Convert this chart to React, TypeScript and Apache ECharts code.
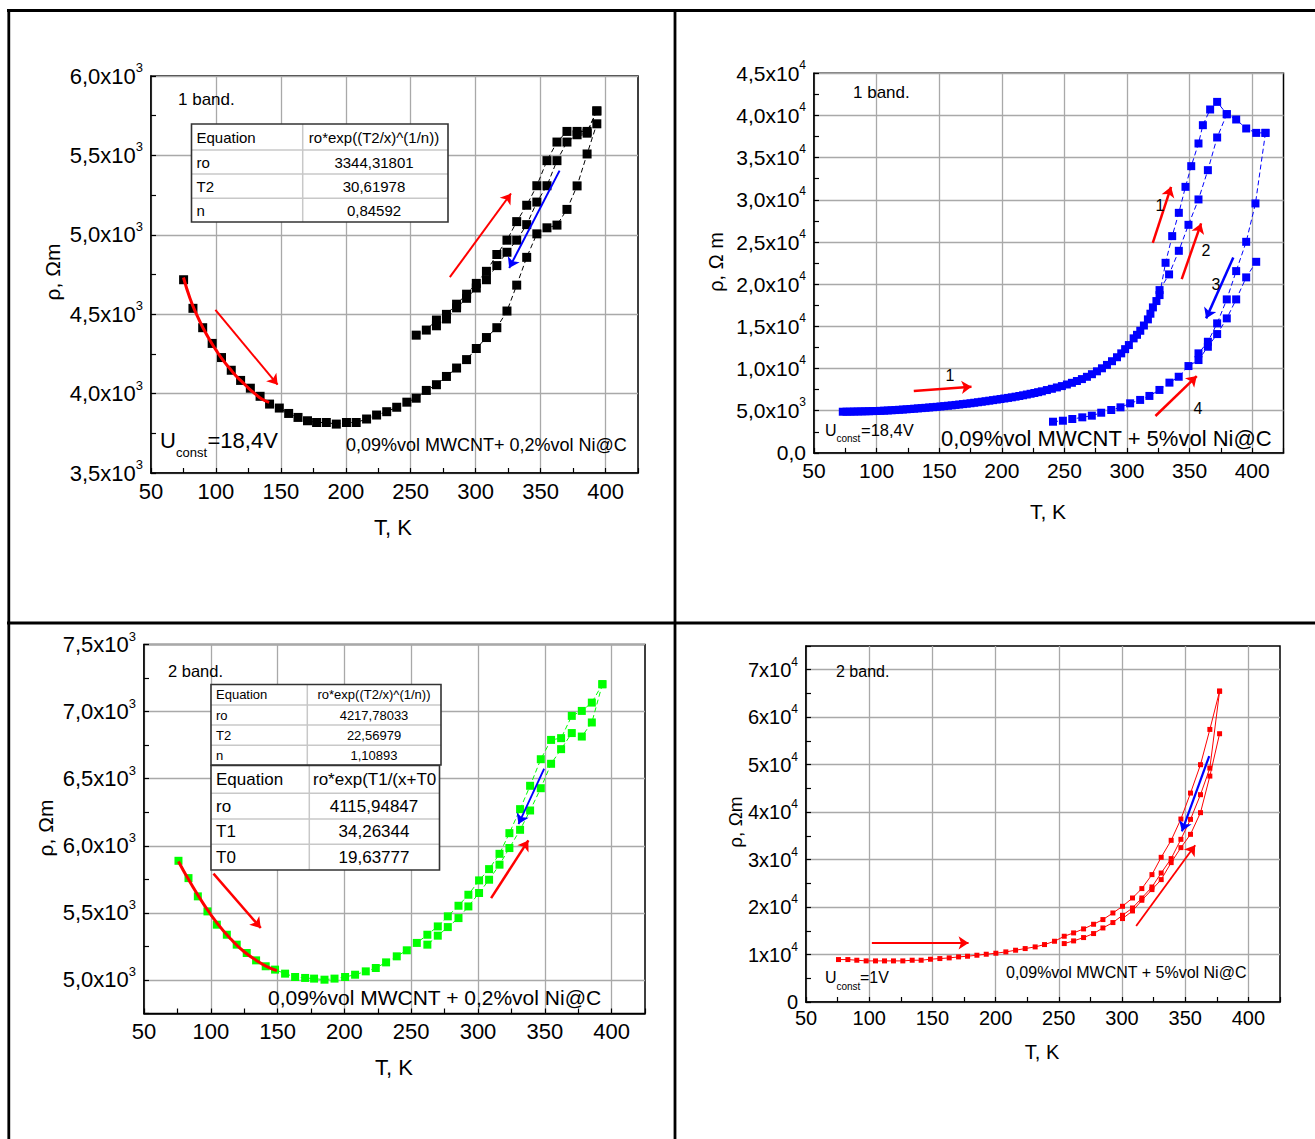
import React, { useEffect, useRef } from 'react';
import * as echarts from 'echarts';

const FONT = '"Liberation Sans", Arial, Helvetica, sans-serif';
const GRID_COLOR = '#a9a9a9';
const CLEAR = 'rgba(0,0,0,0)';

// ---------- Panel 1 (1 band, 0,2%vol Ni@C), black ----------
const p1Lower: number[][] = [[75.1,4717],[82.3,4537],[89.8,4415],[97.1,4316],[104.3,4227],[111.8,4147],[119.0,4083],[126.5,4034],[134.0,3983],[141.3,3934],[148.8,3909],[156.0,3875],[163.2,3850],[170.5,3829],[177.5,3818],[185.0,3818],[192.7,3808],[200.5,3818],[208.0,3818],[216.0,3840],[223.7,3865],[231.5,3886],[239.2,3914],[247.0,3946],[254.2,3971],[262.0,4020],[269.8,4056],[277.5,4108],[285.3,4161],[293.0,4214],[300.5,4284],[308.3,4353],[316.3,4415],[324.1,4520],[331.6,4683],[339.3,4858],[347.1,5006],[354.9,5044],[362.6,5061],[370.3,5160],[378.1,5308],[385.8,5509],[393.3,5699]];
const p1UpA: number[][] = [[254.2,4368],[262.0,4400],[269.8,4463],[277.5,4499],[285.3,4563],[293.0,4626],[300.5,4694],[308.3,4770],[316.3,4876],[324.1,4966],[331.6,5083],[339.3,5186],[347.1,5309],[354.9,5467],[362.6,5584],[370.3,5651],[378.1,5651],[385.8,5651],[393.3,5780]];
const p1UpB: number[][] = [[393.3,5780],[385.8,5640],[378.1,5630],[370.3,5584],[362.6,5467],[354.9,5309],[347.1,5206],[339.3,5064],[331.6,4966],[324.1,4890],[316.3,4806],[308.3,4717],[300.5,4665],[293.0,4600],[285.3,4540],[277.5,4470],[269.8,4427]];
const p1Fit: number[][] = [[75,4731],[80,4600],[85,4500],[90,4415],[95,4340],[100,4275],[105,4215],[110,4165],[115,4115],[120,4075],[125,4035],[130,4000],[135,3968],[141,3945]];
const p1ArrowsRed: number[][][] = [[[99.6,4527],[147.5,4056]],[[280.1,4733],[327.2,5260]]];
const p1ArrowsBlue: number[][][] = [[[364.6,5404],[325.8,4791]]];
const p1Table: string[][] = [["Equation","ro*exp((T2/x)^(1/n))"],["ro","3344,31801"],["T2","30,61978"],["n","0,84592"]];

// ---------- Panel 2 (1 band, 5%vol Ni@C), blue ----------
const p2Heat1: number[][] = [[73,4880],[76,4885],[79,4890],[82,4900],[85,4910],[88,4920],[91,4930],[94,4942],[97,4953],[100,4965],[103,4985],[106,5005],[109,5030],[112,5055],[115,5080],[118,5110],[121,5140],[124,5170],[127,5205],[130,5240],[133,5275],[136,5310],[139,5345],[142,5385],[145,5420],[148,5460],[151,5500],[154,5545],[157,5590],[160,5635],[163,5685],[166,5735],[169,5785],[172,5835],[175,5885],[178,5945],[181,6005],[184,6065],[187,6125],[190,6190],[193,6255],[196,6320],[199,6385],[202,6450],[205,6520],[208,6590],[211,6665],[214,6745],[217,6830],[220,6920],[223,7010],[226,7100],[229,7200],[232,7300],[236,7450],[240,7600],[244,7760],[248,7920],[252,8110],[256,8310],[260,8520],[264,8750],[268,9020],[272,9330],[276,9670],[280,10030],[284,10430],[288,10870],[292,11340],[295.4,11800],[298.5,12300],[301.5,12784],[305.3,13578],[308,14000],[310.6,14478],[313.5,15100],[316.7,15829],[318.7,16500],[320.7,17250],[323.5,18000],[326.0,18708],[330.8,22535],[336.1,25698],[341.4,28459],[346.7,31540],[351.3,33992],[357.1,36681],[360.6,38850],[366.4,40709],[372.0,41611],[379.7,40153],[387.2,39524],[395.2,38458],[403.2,37937],[410.6,37937]];
const p2Heat2: number[][] = [[326.0,19300],[333.6,21160],[341.4,23957],[349.1,27037],[357.1,30047],[364.6,33518],[372.0,37392],[379.7,40153]];
const p2Cool3: number[][] = [[410.6,37937],[402.6,29572],[395.2,25023],[387.2,21551],[379.7,18198],[372.0,15355],[364.6,13175],[357.1,11800]];
const p2Heat4: number[][] = [[240.9,3697],[248.8,3815],[256.3,4016],[264.3,4216],[271.9,4413],[279.4,4763],[287.4,5083],[294.8,5403],[302.5,5877],[310.5,6280],[317.9,6753],[325.9,7464],[333.9,8329],[341.3,9028],[349.1,10296],[357.1,11007],[364.6,12583],[372.0,14087],[379.7,15947],[387.2,18198],[395.2,20805],[403.2,22653]];
const p2ArrowsRed: number[][][] = [[[129.7,7334],[175.8,7844]],[[320.6,24905],[335.2,31540]],[[343.7,20604],[359.2,27203]],[[322.7,4372],[355.7,9111]]];
const p2ArrowsBlue: number[][][] = [[[384.9,23174],[363.2,15947]]];

// ---------- Panel 3 (2 band, 0,2%vol Ni@C), green ----------
const p3Main: number[][] = [[75.8,5888],[83.3,5759],[90.3,5623],[97.5,5511],[104.5,5412],[112.0,5337],[119.4,5263],[126.9,5201],[133.9,5146],[141.1,5102],[148.1,5077],[155.6,5047],[163.1,5022],[170.6,5015],[177.3,5010],[185.1,5002],[192.6,5010],[200.5,5022],[208.0,5039],[216.0,5064],[223.5,5089],[231.2,5131],[239.2,5176],[246.7,5221],[254.2,5276],[262.1,5337],[269.9,5399],[277.4,5474],[285.4,5553],[292.8,5635],[300.8,5742],[308.3,5826],[316.1,5940],[323.5,6094],[331.5,6273],[339.0,6447],[347.0,6645],[354.7,6789],[362.2,6802],[370.2,6968],[377.7,7005],[385.2,7067],[393.1,7204]];
const p3Back: number[][] = [[393.1,7204],[385.2,6919],[377.7,6814],[370.2,6840],[362.2,6720],[354.7,6611],[347.0,6429],[339.0,6263],[331.5,6119],[323.5,5983],[316.1,5859],[308.3,5747],[300.8,5648],[292.8,5548],[285.4,5461],[277.4,5394],[269.9,5330],[262.1,5263]];
const p3Fit: number[][] = [[75.8,5883],[85,5720],[95,5560],[105,5420],[115,5305],[125,5210],[135,5140],[142,5100],[149.5,5069]];
const p3ArrowsRed: number[][][] = [[[102,5792],[137.4,5387]],[[309.8,5610],[337.7,6040]]];
const p3ArrowsBlue: number[][][] = [[[349.5,6574],[330.3,6162]]];
const p3Table1: string[][] = [["Equation","ro*exp((T2/x)^(1/n))"],["ro","4217,78033"],["T2","22,56979"],["n","1,10893"]];
const p3Table2: string[][] = [["Equation","ro*exp(T1/(x+T0"],["ro","4115,94847"],["T1","34,26344"],["T0","19,63777"]];

// ---------- Panel 4 (2 band, 5%vol Ni@C), red ----------
const p4Upper: number[][] = [[75.7,8941],[83.1,8941],[90.2,8800],[97.6,8660],[105.0,8660],[112.1,8660],[119.2,8660],[126.6,8660],[134.0,8800],[141.1,8800],[148.5,9011],[155.9,9151],[163.3,9292],[170.7,9502],[177.8,9643],[185.2,9853],[192.6,10064],[200.2,10275],[208.1,10555],[215.8,10906],[223.4,11257],[231.3,11608],[238.7,12100],[246.6,12800],[254.3,13854],[261.7,14556],[269.6,15398],[277.5,16377],[284.9,17366],[292.8,18756],[300.4,20166],[308.3,21913],[315.7,23892],[323.7,26839],[331.0,30480],[338.9,34059],[346.6,38543],[354.2,44016],[362.1,49994],[369.5,57424],[377.2,65487]];
const p4Middle: number[][] = [[377.2,65487],[369.5,49278],[362.1,43679],[354.2,38479],[346.6,34269],[338.9,30207],[331.0,27176],[323.7,24229],[315.7,21913],[308.3,19808],[300.4,18271],[292.8,16735],[284.9,15598],[277.5,14419],[269.6,13573],[261.7,12871],[254.3,12310]];
const p4Lower: number[][] = [[300.4,17577],[308.3,19177],[315.7,21429],[323.7,23681],[331.0,25786],[338.9,29365],[346.6,32522],[354.2,35321],[362.1,39890],[369.5,47594],[377.2,56519]];
const p4ArrowsRed: number[][][] = [[[102.1,12450],[178.6,12450]],[[311.2,16019],[357.9,33006]]];
const p4ArrowsBlue: number[][][] = [[[369.0,51805],[347.4,35953]]];

// ---------- helpers ----------
const comma = (n: number, d: number) => n.toFixed(d).replace('.', ',');

function xAxis(gridIndex: number, fs: number, margin: number) {
  return {
    type: 'value', gridIndex, min: 50, max: 425, interval: 25,
    axisLine: { show: true, onZero: false, lineStyle: { color: '#000', width: 1.5 } },
    axisTick: { show: true, inside: true, length: 5, lineStyle: { color: '#000', width: 1.2 } },
    axisLabel: {
      show: true, margin, color: '#000', fontSize: fs, fontFamily: FONT,
      formatter: (v: number) => (Math.abs(v % 50) < 1e-6 && v <= 400 ? String(v) : ''),
    },
    splitLine: { show: true, lineStyle: { color: [GRID_COLOR, CLEAR], width: 1.3 } },
  };
}

function yAxis(gridIndex: number, min: number, max: number, interval: number, fmt: (v: number) => string, colors: string[], fs: number, sfs: number) {
  return {
    type: 'value', gridIndex, min, max, interval,
    axisLine: { show: true, onZero: false, lineStyle: { color: '#000', width: 1.5 } },
    axisTick: { show: true, inside: true, length: 5, lineStyle: { color: '#000', width: 1.2 } },
    axisLabel: {
      show: true, margin: 8, color: '#000', fontSize: fs, fontFamily: FONT, formatter: fmt,
      rich: {
        m: { fontSize: fs, fontFamily: FONT, color: '#000', lineHeight: fs + 8 },
        s: { fontSize: sfs, fontFamily: FONT, color: '#000', verticalAlign: 'top', lineHeight: sfs + 2 },
      },
    },
    splitLine: { show: true, lineStyle: { color: colors, width: 1.3 } },
  };
}

const fmtThousands = (v: number) => (Math.abs(v % 500) < 1e-6 ? `{m|${comma(v / 1000, 1)}x10}{s|3}` : '');
const fmtP2 = (v: number) => {
  if (v === 0) return '{m|0,0}';
  if (Math.abs(v % 5000) > 1e-6) return '';
  if (v < 10000) return `{m|${comma(v / 1000, 1)}x10}{s|3}`;
  return `{m|${comma(v / 10000, 1)}x10}{s|4}`;
};
const fmtP4 = (v: number) => {
  if (v === 0) return '{m|0}';
  if (Math.abs(v % 10000) > 1e-6) return '';
  return `{m|${Math.round(v / 10000)}x10}{s|4}`;
};

function pts(idx: number, data: number[][], color: string, size: number, solid = false) {
  return {
    type: 'line', xAxisIndex: idx, yAxisIndex: idx, data,
    symbol: 'rect', symbolSize: size, showSymbol: true, showAllSymbol: true,
    itemStyle: { color }, lineStyle: { color, width: 1, type: solid ? 'solid' : [5, 3] },
    z: 3, silent: true,
  };
}
function fit(idx: number, data: number[][]) {
  return {
    type: 'line', xAxisIndex: idx, yAxisIndex: idx, data, smooth: true, showSymbol: false, symbol: 'none',
    lineStyle: { color: '#ff0000', width: 3 }, z: 5, silent: true,
  };
}
function arrows(idx: number, list: number[][][], color: string, width = 2) {
  return {
    type: 'lines', coordinateSystem: 'cartesian2d', xAxisIndex: idx, yAxisIndex: idx,
    data: list.map((c) => ({ coords: c })),
    symbol: ['none', 'arrow'], symbolSize: 10,
    lineStyle: { color, width, opacity: 1, curveness: 0 }, z: 6, silent: true,
  };
}

function txt(text: string, x: number, y: number, fs: number, align = 'left', rot = 0) {
  return {
    type: 'text', x, y, rotation: rot, z: 120, silent: true,
    style: { text, fontSize: fs, fontFamily: FONT, fill: '#000', align, verticalAlign: 'middle', textAlign: align, textVerticalAlign: 'middle' },
  };
}
function line(x1: number, y1: number, x2: number, y2: number, stroke: string, lw: number, z = 110) {
  return { type: 'line', z, silent: true, shape: { x1, y1, x2, y2 }, style: { stroke, lineWidth: lw } };
}
function table(x0: number, y0: number, w: number, h: number, divX: number, rowLines: number[], rows: string[][], fs: number, rightCenter: number, firstRightLeftX?: number) {
  const els: any[] = [];
  els.push({ type: 'rect', z: 100, silent: true, shape: { x: x0, y: y0, width: w, height: h }, style: { fill: '#fff', stroke: 'none' } });
  rowLines.forEach((y) => els.push(line(x0, y, x0 + w, y, '#c8c8c8', 1.5, 101)));
  els.push(line(divX, y0, divX, y0 + h, '#c8c8c8', 1.5, 101));
  els.push({ type: 'rect', z: 102, silent: true, shape: { x: x0, y: y0, width: w, height: h }, style: { fill: 'none', stroke: '#333', lineWidth: 1.6 } });
  const bounds = [y0, ...rowLines, y0 + h];
  rows.forEach((r, i) => {
    const cy = (bounds[i] + bounds[i + 1]) / 2;
    els.push(txt(r[0], x0 + 5, cy, fs, 'left'));
    if (i === 0 && firstRightLeftX !== undefined) els.push(txt(r[1], firstRightLeftX, cy, fs, 'left'));
    else els.push(txt(r[1], rightCenter, cy, fs, 'center'));
  });
  return els;
}

export default function App() {
  const ref = useRef<HTMLDivElement>(null);
  useEffect(() => {
    document.body.style.margin = '0';
    const chart = echarts.init(ref.current as HTMLDivElement, null, { renderer: 'svg' });
    const graphics: any[] = [
      // page table borders
      line(7, 10.5, 1315, 10.5, '#000', 2.8, 130),
      line(8.8, 9, 8.8, 1139, '#000', 2.8, 130),
      line(675, 9, 675, 1139, '#000', 2.8, 130),
      line(7, 623, 1315, 623, '#000', 2.8, 130),
      // panel 1
      txt('1 band.', 178, 99, 17),
      ...table(191.5, 124, 256.5, 98, 302.7, [150, 174, 198.2], p1Table, 15, 374),
      txt('U', 160, 440, 22), txt('const', 176, 452, 13), txt('=18,4V', 207.5, 440, 22),
      txt('0,09%vol MWCNT+ 0,2%vol Ni@C', 346, 445, 18),
      txt('T, K', 393, 527, 22, 'center'),
      txt('ρ, Ωm', 52, 272, 21, 'center', Math.PI / 2),
      // panel 2
      txt('1 band.', 853, 92, 17),
      txt('U', 825, 430, 16), txt('const', 836.5, 438.5, 10), txt('=18,4V', 861, 430, 16.5),
      txt('0,09%vol MWCNT + 5%vol Ni@C', 941, 438, 22),
      txt('1', 950, 375, 16, 'center'), txt('1', 1160, 205, 16, 'center'), txt('2', 1206, 250, 16, 'center'),
      txt('3', 1216, 284, 16, 'center'), txt('4', 1198, 408, 16, 'center'),
      txt('T, K', 1048, 511, 21, 'center'),
      txt('ρ, Ω m', 716, 262, 20, 'center', Math.PI / 2),
      // panel 3
      txt('2 band.', 168, 671, 16.5),
      ...table(211, 684.5, 230, 80.5, 307.3, [705, 725, 745.3], p3Table1, 13, 374),
      ...table(211, 765.5, 228.5, 104.5, 309.3, [793.3, 819, 844.3], p3Table2, 17, 374, 313),
      txt('0,09%vol MWCNT + 0,2%vol Ni@C', 268, 997, 21),
      txt('T, K', 394, 1067, 22, 'center'),
      txt('ρ, Ωm', 45, 828, 21, 'center', Math.PI / 2),
      // panel 4
      txt('2 band.', 836, 671, 16),
      txt('U', 825, 977, 16), txt('const', 836.5, 986, 10), txt('=1V', 860, 977, 16),
      txt('0,09%vol MWCNT + 5%vol Ni@C', 1006, 972, 16),
      txt('T, K', 1042, 1052, 20, 'center'),
      txt('ρ, Ωm', 735, 822, 19, 'center', Math.PI / 2),
    ];

    const option: any = {
      animation: false,
      backgroundColor: '#fff',
      grid: [
        { left: 151, top: 76, width: 487, height: 397, show: true, borderColor: '#000', borderWidth: 1.5, backgroundColor: CLEAR },
        { left: 814, top: 73.3, width: 469.5, height: 379.6, show: true, borderColor: '#000', borderWidth: 1.5, backgroundColor: CLEAR },
        { left: 144, top: 644.5, width: 501, height: 369, show: true, borderColor: '#000', borderWidth: 1.5, backgroundColor: CLEAR },
        { left: 806, top: 646, width: 474, height: 356, show: true, borderColor: '#000', borderWidth: 1.5, backgroundColor: CLEAR },
      ],
      xAxis: [xAxis(0, 22, 7), xAxis(1, 21, 7), xAxis(2, 22, 7), xAxis(3, 20, 6)],
      yAxis: [
        yAxis(0, 3500, 6000, 250, fmtThousands, [GRID_COLOR, CLEAR], 22, 13),
        yAxis(1, 0, 45000, 2500, fmtP2, [GRID_COLOR, CLEAR], 21, 12),
        yAxis(2, 4750, 7500, 250, fmtThousands, [CLEAR, GRID_COLOR], 22, 13),
        yAxis(3, 0, 75000, 5000, fmtP4, [GRID_COLOR, CLEAR], 20, 12),
      ],
      graphic: graphics,
      series: [
        pts(0, p1Lower, '#000', 9), pts(0, p1UpA, '#000', 9), pts(0, p1UpB, '#000', 9),
        fit(0, p1Fit), arrows(0, p1ArrowsRed, '#ff0000'), arrows(0, p1ArrowsBlue, '#0000ff'),
        pts(1, p2Heat1, '#0000ff', 8), pts(1, p2Heat2, '#0000ff', 8), pts(1, p2Cool3, '#0000ff', 8), pts(1, p2Heat4, '#0000ff', 8),
        arrows(1, p2ArrowsRed, '#ff0000', 2.5), arrows(1, p2ArrowsBlue, '#0000ff', 2.5),
        pts(2, p3Main, '#00ff00', 8), pts(2, p3Back, '#00ff00', 8),
        fit(2, p3Fit), arrows(2, p3ArrowsRed, '#ff0000', 2.5), arrows(2, p3ArrowsBlue, '#0000ff', 1.8),
        pts(3, p4Upper, '#ff0000', 5, true), pts(3, p4Middle, '#ff0000', 5, true), pts(3, p4Lower, '#ff0000', 5, true),
        arrows(3, p4ArrowsRed, '#ff0000', 1.8), arrows(3, p4ArrowsBlue, '#0000ff', 2.2),
      ],
    };
    chart.setOption(option);
    return () => chart.dispose();
  }, []);
  return <div ref={ref} style={{ width: 1315, height: 1139 }} />;
}
